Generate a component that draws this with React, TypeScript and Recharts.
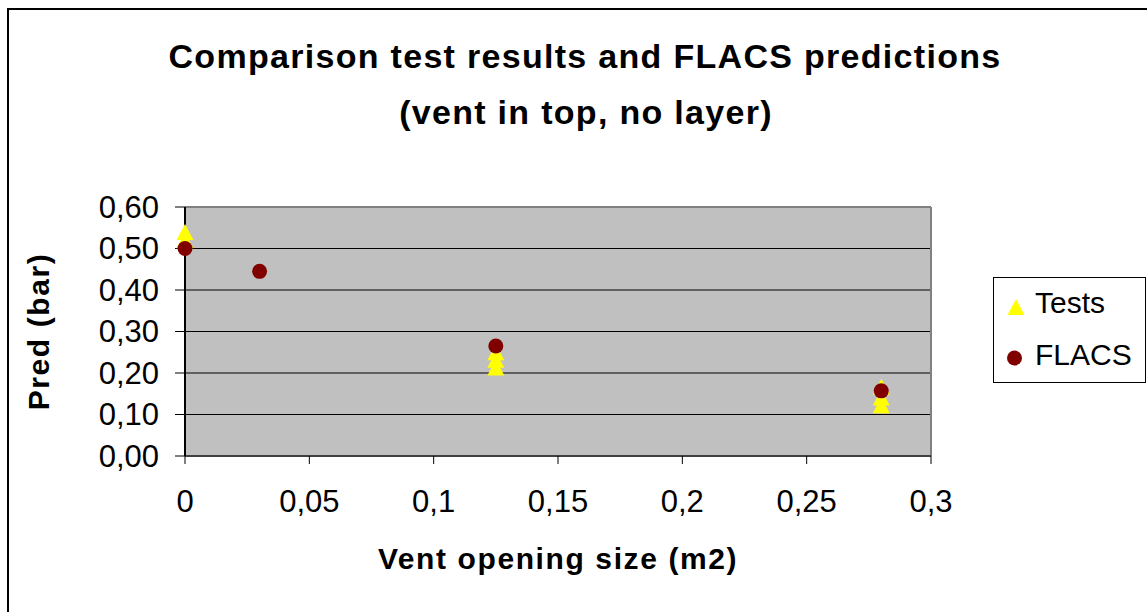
import React from "react";
import {
  ScatterChart,
  Scatter,
  XAxis,
  YAxis,
  CartesianGrid,
  ReferenceLine,
  Legend,
  Label,
} from "recharts";

// values
const testX = [0, 0, 0.125, 0.125, 0.125, 0.28, 0.28, 0.28];
const testY = [0.54, 0.52, 0.25, 0.232, 0.213, 0.167, 0.141, 0.122];
const flacsX = [0, 0.03, 0.125, 0.28];
const flacsY = [0.5, 0.445, 0.265, 0.157];
const xTicks = [0, 0.05, 0.1, 0.15, 0.2, 0.25, 0.3];
const yTicks = [0, 0.1, 0.2, 0.3, 0.4, 0.5, 0.6];

const tests = testX.map((x, i) => ({ x, y: testY[i] }));
const flacs = flacsX.map((x, i) => ({ x, y: flacsY[i] }));

const FONT = "'Liberation Sans', Arial, sans-serif";
const comma = (s: string) => s.replace(".", ",");

function Triangle(props: any) {
  const { cx, cy } = props;
  return (
    <polygon
      points={`${cx},${cy - 8} ${cx + 8.5},${cy + 8} ${cx - 8.5},${cy + 8}`}
      fill="#ffff00"
    />
  );
}

function Dot(props: any) {
  return <circle cx={props.cx} cy={props.cy} r={7.5} fill="#800000" />;
}

function YTick({ x, y, payload }: any) {
  return (
    <text x={x} y={y} textAnchor="end" dominantBaseline="central" fontSize={31} fontFamily={FONT} fill="#000">
      {comma(payload.value.toFixed(2))}
    </text>
  );
}

function XTick({ x, y, payload }: any) {
  return (
    <text x={x} y={y} dy={46} textAnchor="middle" fontSize={31} fontFamily={FONT} fill="#000">
      {comma(String(payload.value))}
    </text>
  );
}

function LegendBox() {
  return (
    <svg width={153} height={106} style={{ display: "block" }}>
      <rect x={0.5} y={0.5} width={152} height={105} fill="#fff" stroke="#000" />
      <polygon points="23,22 31.5,38 14.5,38" fill="#ffff00" />
      <text x={42} y={36} fontSize={30} fontFamily={FONT} fill="#000">Tests</text>
      <circle cx={21.5} cy={81} r={7.5} fill="#800000" />
      <text x={42} y={88} fontSize={30} fontFamily={FONT} fill="#000">FLACS</text>
    </svg>
  );
}

export default function App() {
  return (
    <div style={{ position: "fixed", left: 0, top: 0, width: 1147, height: 612, overflow: "hidden", background: "#fff" }}>
      <div
        style={{
          position: "absolute",
          left: 7,
          top: 8,
          width: 1300,
          height: 800,
          borderLeft: "2px solid #000",
          borderTop: "2px solid #000",
        }}
      />
      <svg width={1147} height={612} style={{ position: "absolute", left: 0, top: 0 }}>
        <text x={585} y={68} textAnchor="middle" fontSize={34} fontWeight="bold" fontFamily={FONT} letterSpacing={1.3}>
          Comparison test results and FLACS predictions
        </text>
        <text x={586} y={124} textAnchor="middle" fontSize={34} fontWeight="bold" fontFamily={FONT} letterSpacing={1.3}>
          (vent in top, no layer)
        </text>
      </svg>
      <div style={{ position: "absolute", left: 8, top: 9 }}>
        <ScatterChart width={1139} height={603} margin={{ top: 198, right: 216, bottom: 0, left: 0 }}>
          <CartesianGrid vertical={false} fill="#c0c0c0" stroke="#000" strokeWidth={1} />
          <XAxis
            type="number"
            dataKey="x"
            domain={[0, 0.3]}
            ticks={xTicks}
            height={156}
            tickSize={8}
            tickMargin={2}
            tick={<XTick />}
            axisLine={{ stroke: "#404040", strokeWidth: 2 }}
            tickLine={{ stroke: "#000" }}
          >
            <Label
              content={({ viewBox }: any) => (
                <text
                  x={viewBox.x + viewBox.width / 2}
                  y={560}
                  textAnchor="middle"
                  fontSize={30}
                  fontWeight="bold"
                  fontFamily={FONT}
                  letterSpacing={1.6}
                >
                  Vent opening size (m2)
                </text>
              )}
            />
          </XAxis>
          <YAxis
            type="number"
            dataKey="y"
            domain={[0, 0.6]}
            ticks={yTicks}
            width={177}
            tickSize={10}
            tickMargin={16}
            tick={<YTick />}
            axisLine={{ stroke: "#000", strokeWidth: 2 }}
            tickLine={{ stroke: "#000" }}
          >
            <Label
              content={({ viewBox }: any) => {
                const cy = viewBox.y + viewBox.height / 2;
                return (
                  <text
                    x={41}
                    y={cy}
                    transform={`rotate(-90 41 ${cy})`}
                    textAnchor="middle"
                    fontSize={30}
                    fontWeight="bold"
                    fontFamily={FONT}
                    letterSpacing={1.6}
                  >
                    Pred (bar)
                  </text>
                );
              }}
            />
          </YAxis>
          <ReferenceLine y={0.6} stroke="#808080" strokeWidth={2} />
          <ReferenceLine x={0.3} stroke="#808080" strokeWidth={2} />
          <Legend
            layout="horizontal"
            verticalAlign="middle"
            align="center"
            content={() => <LegendBox />}
            wrapperStyle={{ position: "absolute", left: 985, top: 268, width: 153, height: 106 }}
          />
          <Scatter name="Tests" data={tests} shape={Triangle} isAnimationActive={false} />
          <Scatter name="FLACS" data={flacs} shape={Dot} isAnimationActive={false} />
        </ScatterChart>
      </div>
    </div>
  );
}
